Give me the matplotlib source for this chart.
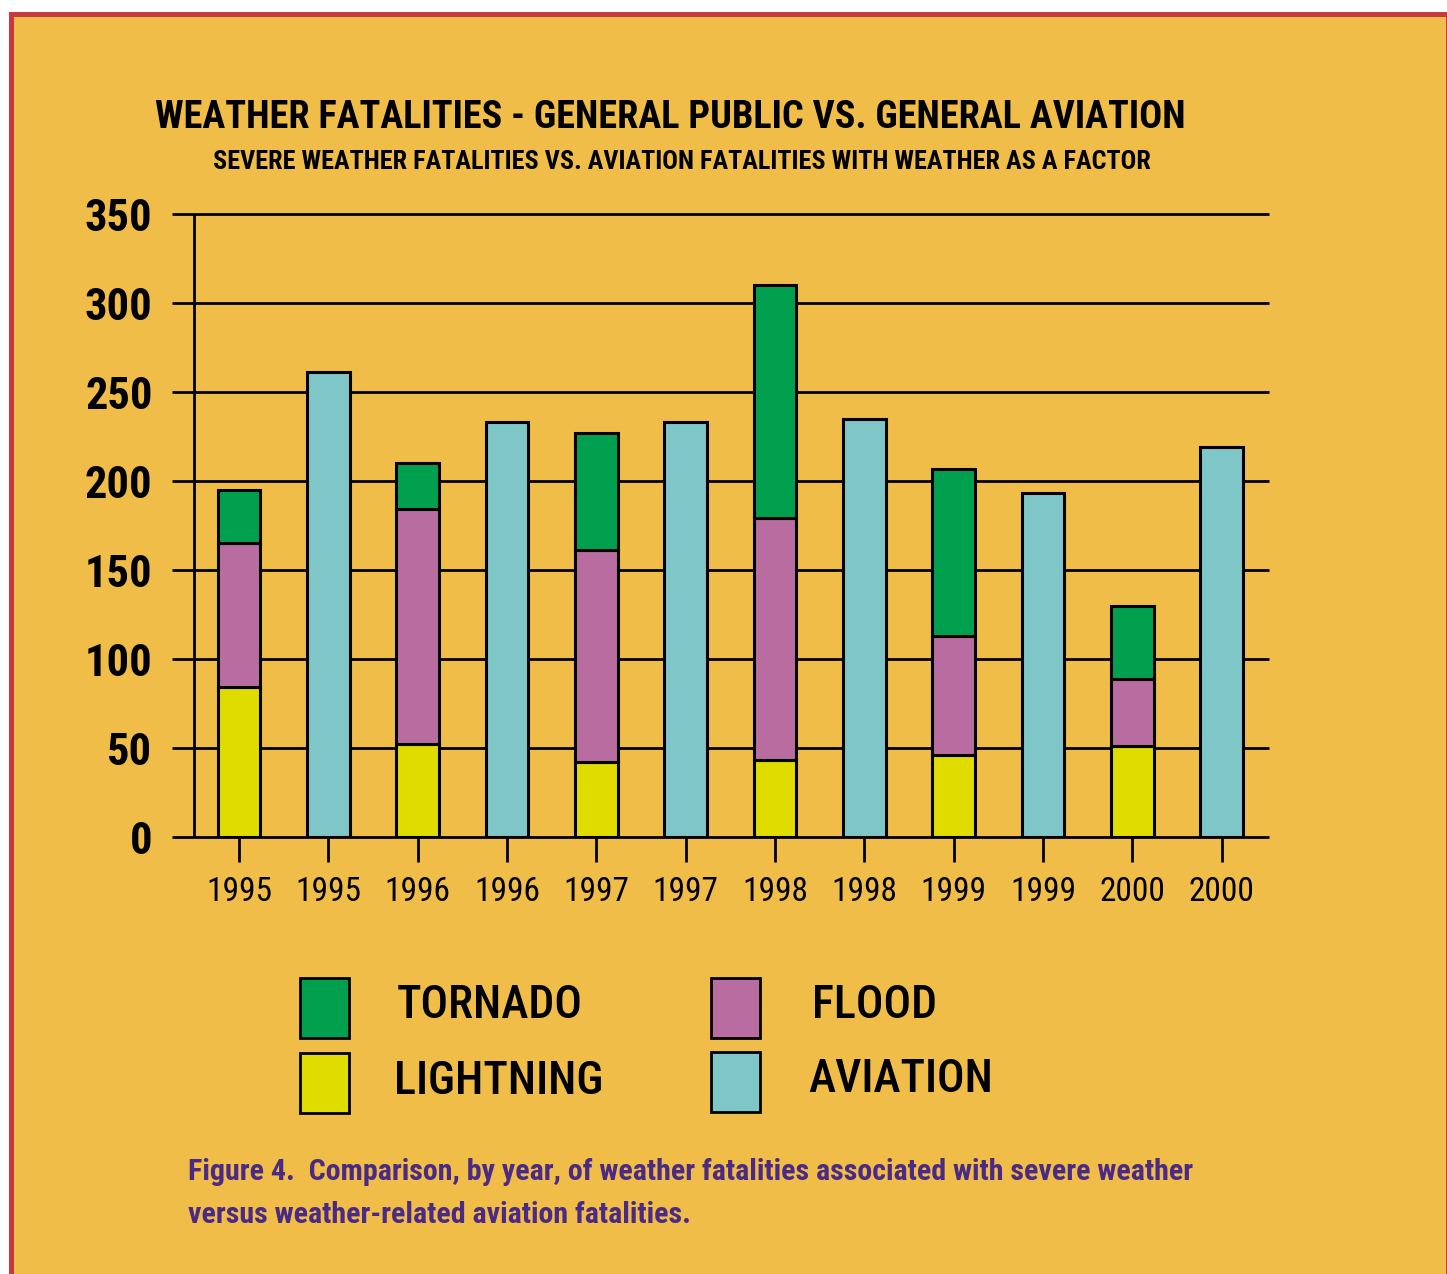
import matplotlib
matplotlib.use("Agg")
import matplotlib.pyplot as plt
from matplotlib import font_manager
from matplotlib.patches import Rectangle
import numpy as np

# ---- data ----
years = ['1995', '1996', '1997', '1998', '1999', '2000']
lightning = [84, 52, 42, 43, 46, 51]
flood = [81, 132, 119, 136, 67, 38]
tornado = [30, 26, 66, 131, 94, 41]
aviation = [261, 233, 233, 235, 193, 219]

tick_labels = [y for y in years for _ in range(2)]
y_ticks = [0, 50, 100, 150, 200, 250, 300, 350]

BG = '#EFBD48'
RED = '#C8393F'
C_TORNADO = '#00A04F'
C_FLOOD = '#B86CA0'
C_LIGHTNING = '#E0DC00'
C_AVIATION = '#7EC6C8'
PURPLE = '#4B2A85'


def pick_font():
    names = set(font_manager.get_font_names())
    for name in ['Roboto Condensed', 'Liberation Sans Narrow', 'DejaVu Sans Condensed',
                 'Roboto', 'Liberation Sans']:
        if name in names:
            return name
    return 'DejaVu Sans'


FONT = pick_font()
plt.rcParams['font.family'] = [FONT, 'DejaVu Sans']

W, H = 1447, 1274
fig = plt.figure(figsize=(W / 100, H / 100), dpi=100)
fig.patch.set_facecolor('white')


def px(x, y):
    # pixel coords (top-left origin) -> figure fraction
    return x / W, 1 - y / H


# frame: red border around the yellow panel
fig.patches.append(Rectangle((9 / W, 0), (W - 9) / W, (H - 12) / H,
                             transform=fig.transFigure, facecolor=RED, edgecolor='none', zorder=-2))
fig.patches.append(Rectangle((14 / W, 0), (W - 1.5 - 14) / W, (H - 17) / H,
                             transform=fig.transFigure, facecolor=BG, edgecolor='none', zorder=-1))

ax = fig.add_axes([172 / W, 1 - 837 / H, (1269 - 172) / W, (837 - 214) / H])
ax.set_facecolor('none')
ax.set_xlim(-0.75, 11.53)
ax.set_ylim(0, 350)
for s in ax.spines.values():
    s.set_visible(False)

# gridlines and y axis line
ax.hlines(y_ticks, -0.75, 11.53, colors='black', linewidth=2.0, zorder=1, clip_on=False)
ax.vlines(-0.505, 0, 350, colors='black', linewidth=2.0, zorder=1, clip_on=False)

pub_x = np.arange(0, 12, 2)
av_x = np.arange(1, 12, 2)
bw = 0.48
kw = dict(width=bw, edgecolor='black', linewidth=2.2, zorder=3)
ax.bar(pub_x, lightning, color=C_LIGHTNING, **kw)
ax.bar(pub_x, flood, bottom=lightning, color=C_FLOOD, **kw)
ax.bar(pub_x, tornado, bottom=np.add(lightning, flood), color=C_TORNADO, **kw)
ax.bar(av_x, aviation, color=C_AVIATION, **kw)

ax.set_xticks(np.arange(12))
ax.set_xticklabels(tick_labels, fontsize=24)
ax.tick_params(axis='x', length=18, width=2.0, pad=10, colors='black')
ax.set_yticks(y_ticks)
ax.set_yticklabels([str(v) for v in y_ticks], fontsize=32, fontweight='bold')
ax.tick_params(axis='y', length=0, pad=14)

# titles
fig.text(*px(670, 117), 'WEATHER FATALITIES - GENERAL PUBLIC VS. GENERAL AVIATION',
         ha='center', va='center', fontsize=27.5, fontweight='bold')
fig.text(*px(682, 162), 'SEVERE WEATHER FATALITIES VS. AVIATION FATALITIES WITH WEATHER AS A FACTOR',
         ha='center', va='center', fontsize=18.8, fontweight='bold')

# legend
legend_items = [
    ('TORNADO', C_TORNADO, 300, 978, 397),
    ('LIGHTNING', C_LIGHTNING, 300, 1053, 394),
    ('FLOOD', C_FLOOD, 711, 978, 812),
    ('AVIATION', C_AVIATION, 711, 1052, 808),
]
for label, color, x0, y0, tx in legend_items:
    fig.patches.append(Rectangle(px(x0, y0 + 60), 49 / W, 60 / H, transform=fig.transFigure,
                                 facecolor=color, edgecolor='black', linewidth=2.0, zorder=2))
    fig.text(*px(tx, y0 + 28), label, ha='left', va='center', fontsize=33, fontweight='medium')

# caption
fig.text(*px(188, 1172), 'Figure 4.  Comparison, by year, of weather fatalities associated with severe weather',
         ha='left', va='center', fontsize=21.6, fontweight='bold', color=PURPLE)
fig.text(*px(188, 1215), 'versus weather-related aviation fatalities.',
         ha='left', va='center', fontsize=21.6, fontweight='bold', color=PURPLE)

fig.savefig('out.png', dpi=100, facecolor=fig.get_facecolor())
